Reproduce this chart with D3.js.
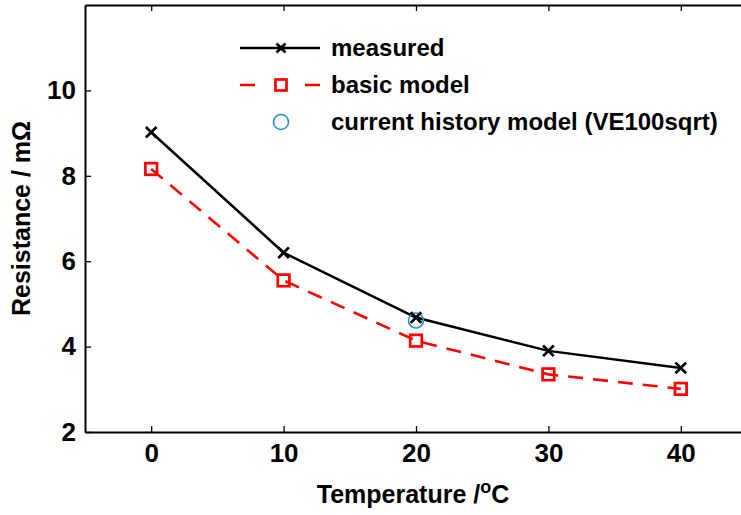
<!DOCTYPE html>
<html>
<head>
<meta charset="utf-8">
<script src="https://cdnjs.cloudflare.com/ajax/libs/d3/7.8.5/d3.min.js"></script>
<style>
    html, body { margin: 0; padding: 0; background: #fff; }
    svg { display: block; font-family: "Liberation Sans", Arial, sans-serif; }
</style>
</head>
<body>
<div id="chart"></div>
<script>
(function() {
    'use strict';

    // data
    var temps = [0, 10, 20, 30, 40];
    var measured = [9.02, 6.2, 4.68, 3.9, 3.5];
    var basicModel = [8.16, 5.55, 4.14, 3.35, 3.01];
    var historyTemps = [20];
    var historyModel = [4.61];
    var xTicks = [0, 10, 20, 30, 40];
    var yTicks = [2, 4, 6, 8, 10];
    var legendLabels = ['measured', 'basic model', 'current history model (VE100sqrt)'];

    var width = 741, height = 515;
    var margin = {top: 5, left: 85, right: -6, bottom: 83};

    var svg = d3.select('#chart').append('svg')
        .attr('width', width)
        .attr('height', height);

    var x = d3.scaleLinear()
        .domain([-5, 45])
        .range([margin.left, width - margin.right]);

    var y = d3.scaleLinear()
        .domain([2, 12])
        .range([height - margin.bottom, margin.top]);

    var tickLen = 6;
    var plotW = x.range()[1] - x.range()[0];
    var plotH = y.range()[0] - y.range()[1];

    // axes, ticks pointing inward like matlab
    function styleAxis(g) {
        g.select('.domain').attr('stroke', '#000').attr('stroke-width', 2);
        g.selectAll('.tick line').attr('stroke', '#000').attr('stroke-width', 1.3);
        g.selectAll('.tick text')
            .attr('fill', '#000')
            .attr('font-size', '26px')
            .attr('font-weight', 'bold');
    }

    svg.append('g')
        .attr('transform', 'translate(0,' + y.range()[0] + ')')
        .call(d3.axisBottom(x).tickValues(xTicks).tickSizeInner(-tickLen).tickSizeOuter(0).tickPadding(12))
        .call(styleAxis);

    svg.append('g')
        .attr('transform', 'translate(0,' + y.range()[1] + ')')
        .call(d3.axisTop(x).tickValues(xTicks).tickSizeInner(-tickLen).tickSizeOuter(0).tickFormat(''))
        .call(styleAxis);

    svg.append('g')
        .attr('transform', 'translate(' + x.range()[0] + ',0)')
        .call(d3.axisLeft(y).tickValues(yTicks).tickSizeInner(-tickLen).tickSizeOuter(0).tickPadding(9))
        .call(styleAxis);

    svg.append('g')
        .attr('transform', 'translate(' + x.range()[1] + ',0)')
        .call(d3.axisRight(y).tickValues(yTicks).tickSizeInner(-tickLen).tickSizeOuter(0).tickFormat(''))
        .call(styleAxis);

    // axis titles
    var xTitle = svg.append('text')
        .attr('x', x.range()[0] + plotW / 2 - 3)
        .attr('y', 503)
        .attr('text-anchor', 'middle')
        .attr('font-size', '25px')
        .attr('font-weight', 'bold');
    xTitle.append('tspan').text('Temperature /');
    xTitle.append('tspan').attr('dy', -10).attr('font-size', '18px').text('o');
    xTitle.append('tspan').attr('dy', 10).text('C');

    svg.append('text')
        .attr('transform', 'translate(30,' + (y.range()[1] + plotH / 2) + ') rotate(-90)')
        .attr('text-anchor', 'middle')
        .attr('font-size', '25px')
        .attr('font-weight', 'bold')
        .text('Resistance / m\u03A9');

    // series
    var pts = function(xs, ys) {
        return xs.map(function(t, i) { return [t, ys[i]]; });
    };
    var line = d3.line()
        .x(function(d) { return x(d[0]); })
        .y(function(d) { return y(d[1]); });

    var measuredPts = pts(temps, measured);
    var basicPts = pts(temps, basicModel);
    var historyPts = pts(historyTemps, historyModel);

    svg.append('path')
        .datum(basicPts)
        .attr('d', line)
        .attr('fill', 'none')
        .attr('stroke', '#ff0000')
        .attr('stroke-width', 2.6)
        .attr('stroke-dasharray', '15,10');

    svg.append('path')
        .datum(measuredPts)
        .attr('d', line)
        .attr('fill', 'none')
        .attr('stroke', '#000')
        .attr('stroke-width', 2.5);

    var cross = function(sel, s) {
        sel.append('path')
            .attr('d', 'M' + (-s) + ',' + (-s) + 'L' + s + ',' + s + 'M' + (-s) + ',' + s + 'L' + s + ',' + (-s))
            .attr('stroke', '#000')
            .attr('stroke-width', 2.7)
            .attr('fill', 'none');
    };
    var square = function(sel, s) {
        sel.append('rect')
            .attr('x', -s).attr('y', -s)
            .attr('width', 2 * s).attr('height', 2 * s)
            .attr('fill', 'none')
            .attr('stroke', '#ff0000')
            .attr('stroke-width', 2.7);
    };
    var ring = function(sel, r) {
        sel.append('circle')
            .attr('r', r)
            .attr('fill', 'none')
            .attr('stroke', '#2490d6')
            .attr('stroke-width', 1.6);
    };

    svg.selectAll('.sq').data(basicPts).enter().append('g')
        .attr('class', 'sq')
        .attr('transform', function(d) { return 'translate(' + x(d[0]) + ',' + y(d[1]) + ')'; })
        .call(square, 5.8);

    svg.selectAll('.hist').data(historyPts).enter().append('g')
        .attr('class', 'hist')
        .attr('transform', function(d) { return 'translate(' + x(d[0]) + ',' + y(d[1]) + ')'; })
        .call(ring, 7.5);

    svg.selectAll('.cross').data(measuredPts).enter().append('g')
        .attr('class', 'cross')
        .attr('transform', function(d) { return 'translate(' + x(d[0]) + ',' + y(d[1]) + ')'; })
        .call(cross, 5.3);

    // legend
    var legend = svg.append('g').attr('transform', 'translate(240,48)');
    var rowH = 37;

    legend.append('line')
        .attr('x1', 0).attr('x2', 80).attr('y1', 0).attr('y2', 0)
        .attr('stroke', '#000').attr('stroke-width', 2.5);
    legend.append('g').attr('transform', 'translate(41,0)').call(cross, 4.5);

    legend.append('line')
        .attr('x1', 0).attr('x2', 80).attr('y1', rowH).attr('y2', rowH)
        .attr('stroke', '#ff0000').attr('stroke-width', 2.6)
        .attr('stroke-dasharray', '15,50');
    legend.append('g').attr('transform', 'translate(41,' + rowH + ')').call(square, 5.5);

    legend.append('g').attr('transform', 'translate(41,' + (2 * rowH) + ')').call(ring, 7.5);

    legend.selectAll('.lab').data(legendLabels).enter().append('text')
        .attr('class', 'lab')
        .attr('x', 91)
        .attr('y', function(d, i) { return i * rowH + 8; })
        .attr('font-size', '24px')
        .attr('font-weight', 'bold')
        .text(function(d) { return d; });
})();
</script>
</body>
</html>
